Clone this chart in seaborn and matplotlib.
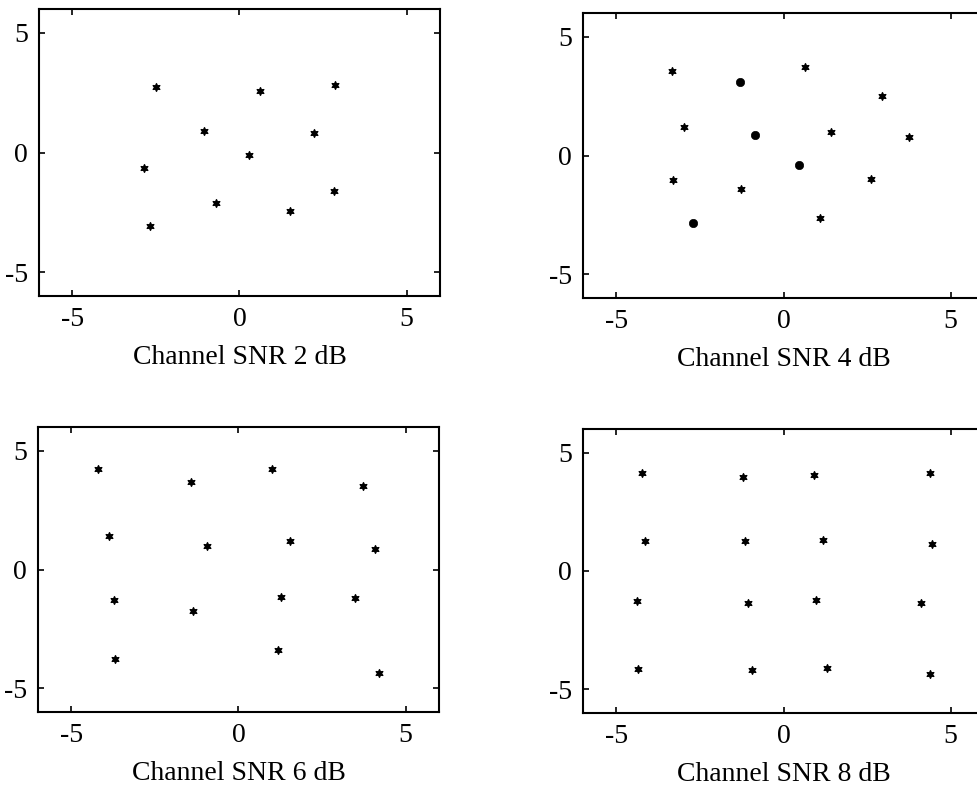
import matplotlib
matplotlib.use("Agg")
import matplotlib.pyplot as plt
import seaborn as sns
import pandas as pd

# ---- data ----
snr2_x = [-2.50, 0.60, 2.85, -1.07, 2.22, 0.27, -2.87, 2.83, -0.69, 1.50, -2.67]
snr2_y = [2.75, 2.57, 2.83, 0.89, 0.81, -0.11, -0.64, -1.60, -2.13, -2.46, -3.07]
snr2_k = ["star"] * 11

snr4_x = [-3.34, -1.30, 0.65, 2.94, -2.98, -0.84, 1.41, 3.76, 0.47, -3.31, -1.26, 2.62, -2.70, 1.09]
snr4_y = [3.55, 3.10, 3.72, 2.52, 1.20, 0.85, 1.01, 0.76, -0.41, -1.03, -1.43, -0.99, -2.85, -2.64]
snr4_k = ["star", "dot", "star", "star", "star", "dot", "star", "star", "dot",
          "star", "star", "star", "dot", "star"]

snr6_x = [-4.19, -1.42, 1.00, 3.72, -3.87, -0.95, 1.54, 4.09, -3.72, -1.36, 1.26, 3.50, -3.69, 1.18, 4.19]
snr6_y = [4.25, 3.69, 4.25, 3.51, 1.43, 1.01, 1.21, 0.88, -1.28, -1.74, -1.16, -1.19, -3.76, -3.38, -4.35]
snr6_k = ["star"] * 15

snr8_x = [-4.24, -1.22, 0.92, 4.38, -4.14, -1.16, 1.17, 4.44, -4.37, -1.06, 0.97, 4.10, -4.36, -0.95, 1.29, 4.38]
snr8_y = [4.16, 3.96, 4.05, 4.12, 1.27, 1.26, 1.29, 1.15, -1.26, -1.37, -1.23, -1.36, -4.15, -4.17, -4.08, -4.37]
snr8_k = ["star"] * 16

captions = ["Channel SNR 2 dB", "Channel SNR 4 dB", "Channel SNR 6 dB", "Channel SNR 8 dB"]
tick_vals = [-5, 0, 5]
tick_labels = ["-5", "0", "5"]

sns.set_theme(style="ticks")
plt.rcParams["font.family"] = ["Liberation Serif", "DejaVu Serif"]

fig = plt.figure(figsize=(9.78, 7.89), dpi=100)
positions = [
    [39 / 978, 1 - 296 / 789, 401 / 978, 287 / 789],
    [583 / 978, 1 - 298 / 789, 401 / 978, 285 / 789],
    [38 / 978, 1 - 712 / 789, 401 / 978, 285 / 789],
    [583 / 978, 1 - 713 / 789, 401 / 978, 284 / 789],
]
datasets = [(snr2_x, snr2_y, snr2_k), (snr4_x, snr4_y, snr4_k),
            (snr6_x, snr6_y, snr6_k), (snr8_x, snr8_y, snr8_k)]

star = (6, 1, 0)
for pos, (xs, ys, ks), cap in zip(positions, datasets, captions):
    ax = fig.add_axes(pos)
    df = pd.DataFrame({"x": xs, "y": ys, "kind": ks})
    stars = df[df.kind == "star"]
    dots = df[df.kind == "dot"]
    sns.scatterplot(data=stars, x="x", y="y", ax=ax, marker=star, s=32,
                    color="black", edgecolor="black", linewidth=0.9, legend=False)
    if len(dots):
        sns.scatterplot(data=dots, x="x", y="y", ax=ax, marker="o", s=36,
                        color="black", edgecolor="black", linewidth=0.5, legend=False)
    ax.set_xlim(-6, 6)
    ax.set_ylim(-6, 6)
    ax.set_xticks(tick_vals)
    ax.set_xticklabels(tick_labels)
    ax.set_yticks(tick_vals)
    ax.set_yticklabels(tick_labels)
    ax.tick_params(direction="in", length=4, width=1.2, top=True, right=True,
                   labelsize=20, colors="black", pad=8)
    for sp in ax.spines.values():
        sp.set_visible(True)
        sp.set_linewidth(1.5)
        sp.set_color("black")
    ax.set_xlabel(cap, fontsize=20, labelpad=9, color="black")
    ax.set_ylabel("")
    ax.set_facecolor("white")

fig.savefig("out.png", dpi=100, facecolor="white")
